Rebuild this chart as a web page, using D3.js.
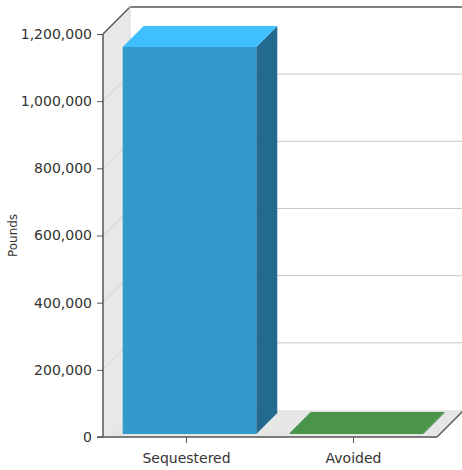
<!DOCTYPE html>
<html>
<head>
<meta charset="utf-8">
<script src="https://cdn.jsdelivr.net/npm/d3@7"></script>
<style>
  body { margin: 0; background: #fff; }
  text { font-family: "DejaVu Sans", Verdana, sans-serif; fill: #333; }
</style>
</head>
<body>
<div id="chart"></div>
<script>
const categories = ["Sequestered", "Avoided"];
const values = [1152000, 3000];
const yTicks = [0, 200000, 400000, 600000, 800000, 1000000, 1200000];
const faceColors = [
    { front: "#3399cc", top: "#40bfff", side: "#236b8e" },
    { front: "#4a954a", top: "#4a954a", side: "#3b7a3b" }
];

const width = 462, height = 470;
const plotLeft = 103, plotRight = 437, plotTop = 34, plotBottom = 437;
const depth = 27;          // wall depth in px (dx = depth, dy = -depth)
const barNear = 3, barFar = 24;
const labelFont = "14px 'DejaVu Sans', Verdana, sans-serif";

const svg = d3.select("#chart").append("svg")
    .attr("width", width)
    .attr("height", height);

const y = d3.scaleLinear().domain([0, 1200000]).range([plotBottom, plotTop]);
const x = d3.scaleBand().domain(categories).range([plotLeft, plotRight]).paddingInner(0.2).paddingOuter(0.1);

const pt = (px, py, d) => [px + d, py - d];
const poly = pts => pts.map(p => p.join(",")).join(" ");

// left side wall
svg.append("polygon")
    .attr("points", poly([[plotLeft, plotTop], pt(plotLeft, plotTop, depth), pt(plotLeft, plotBottom, depth), [plotLeft, plotBottom]]))
    .attr("fill", "#e8e8e8");

// floor
svg.append("polygon")
    .attr("points", poly([[plotLeft, plotBottom], [plotRight, plotBottom], pt(plotRight, plotBottom, depth), pt(plotLeft, plotBottom, depth)]))
    .attr("fill", "#e6e6e6");

// gridlines on back wall and side wall
const grid = svg.append("g");
yTicks.filter(t => t > 0).forEach(t => {
    const [bx, by] = pt(plotLeft, y(t), depth);
    const isTop = t === 1200000;
    grid.append("line")
        .attr("x1", bx).attr("y1", by).attr("x2", plotRight + depth).attr("y2", by)
        .attr("stroke", isTop ? "#555" : "#c8c8c8").attr("stroke-width", isTop ? 1.5 : 1);
    grid.append("line")
        .attr("x1", plotLeft).attr("y1", y(t)).attr("x2", bx).attr("y2", by)
        .attr("stroke", isTop ? "#555" : "#d0d0d0").attr("stroke-width", isTop ? 1.5 : 1);
});

// back wall left edge
svg.append("line")
    .attr("x1", plotLeft + depth).attr("y1", plotTop - depth)
    .attr("x2", plotLeft + depth).attr("y2", plotBottom - depth)
    .attr("stroke", "#d8d8d8");

// floor right edge
svg.append("line")
    .attr("x1", plotRight).attr("y1", plotBottom)
    .attr("x2", plotRight + depth).attr("y2", plotBottom - depth)
    .attr("stroke", "#555").attr("stroke-width", 1.5);

// bars
const bars = svg.append("g");
categories.forEach((c, i) => {
    const x0 = x(c), x1 = x(c) + x.bandwidth();
    const yv = y(values[i]);
    const col = faceColors[i];
    const n = barNear, f = barFar;
    // front
    bars.append("polygon")
        .attr("points", poly([pt(x0, yv, n), pt(x1, yv, n), pt(x1, plotBottom, n), pt(x0, plotBottom, n)]))
        .attr("fill", col.front);
    // side
    bars.append("polygon")
        .attr("points", poly([pt(x1, yv, n), pt(x1, yv, f), pt(x1, plotBottom, f), pt(x1, plotBottom, n)]))
        .attr("fill", col.side);
    // top
    bars.append("polygon")
        .attr("points", poly([pt(x0, yv, n), pt(x1, yv, n), pt(x1, yv, f), pt(x0, yv, f)]))
        .attr("fill", col.top);
});

// y axis
const yAxis = svg.append("g")
    .attr("transform", `translate(${plotLeft},0)`)
    .call(d3.axisLeft(y).tickValues(yTicks).tickSize(6).tickPadding(5).tickFormat(d3.format(",")));
yAxis.select(".domain").attr("stroke", "#555").attr("stroke-width", 1.5).attr("d", `M0,${plotTop}V${plotBottom}`);
yAxis.selectAll(".tick line").attr("stroke", "#555");
yAxis.selectAll("text").attr("fill", "#333").style("font", labelFont);

// x axis
const xAxis = svg.append("g")
    .attr("transform", `translate(0,${plotBottom})`)
    .call(d3.axisBottom(x).tickSize(6).tickPadding(10));
xAxis.select(".domain").attr("stroke", "#555").attr("stroke-width", 1.5).attr("d", `M${plotLeft - 6},0H${plotRight}`);
xAxis.selectAll(".tick line").attr("stroke", "#555");
xAxis.selectAll("text").attr("fill", "#333").style("font", labelFont);

// y axis title
svg.append("text")
    .attr("transform", `translate(17,${(plotTop + plotBottom) / 2}) rotate(-90)`)
    .attr("text-anchor", "middle")
    .style("font-size", "12px")
    .text("Pounds");
</script>
</body>
</html>
